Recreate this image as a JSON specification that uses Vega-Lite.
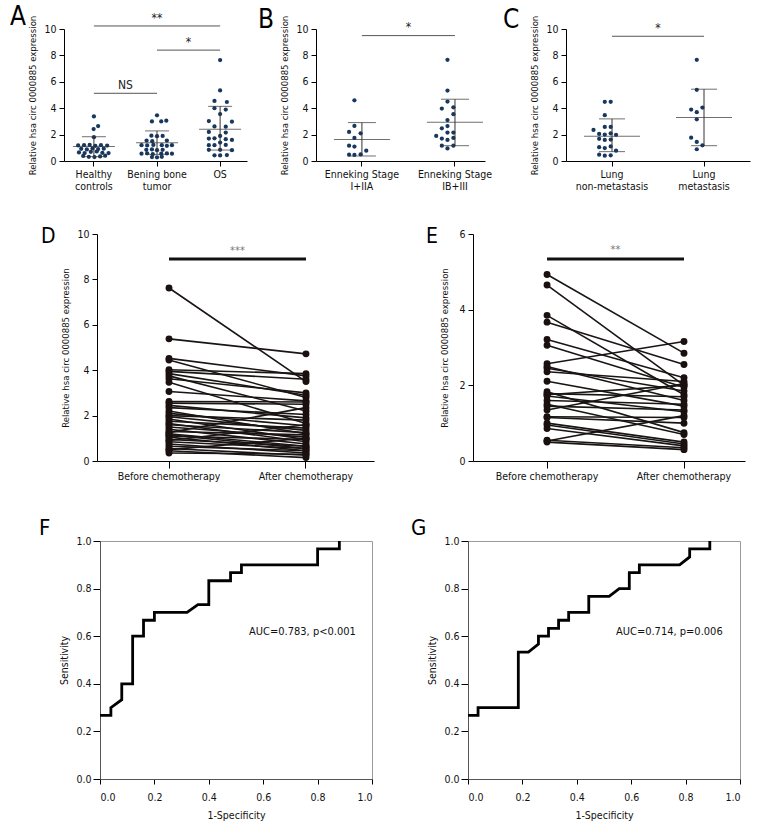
{
"$schema":"https://vega.github.io/schema/vega-lite/v6.json",
"background":"white",
"padding":{"left":4,"top":4,"right":4,"bottom":4},
"config":{
 "font":"Liberation Sans Narrow, DejaVu Sans Condensed, sans-serif",
 "view":{"stroke":null},
 "axis":{"grid":false,"domainColor":"#000","tickColor":"#000","labelColor":"#111","titleColor":"#111","labelFontSize":10.5,"titleFontSize":9.5,"titleFontWeight":"normal","tickSize":5,"labelPadding":3,"titlePadding":6,"labelOverlap":false,"labelFont":"Liberation Sans Narrow, DejaVu Sans Condensed, sans-serif","titleFont":"Liberation Sans Narrow, DejaVu Sans Condensed, sans-serif"},
 "title":{"fontSize":26,"fontWeight":"normal","anchor":"start","frame":"bounds","offset":2,"font":"Liberation Sans Narrow, DejaVu Sans Condensed, sans-serif"},
 "text":{"font":"Liberation Sans Narrow, DejaVu Sans Condensed, sans-serif"}
},
"datasets":{
 "a_pts":[
  {"g":"Healthy controls","v":3.38,"c":0},{"g":"Healthy controls","v":2.65,"c":0.75},{"g":"Healthy controls","v":2.42,"c":-0.05},{"g":"Healthy controls","v":1.8,"c":0},
  {"g":"Healthy controls","v":1.18,"c":-2.8},{"g":"Healthy controls","v":1.2,"c":-1.75},{"g":"Healthy controls","v":1.22,"c":-0.75},{"g":"Healthy controls","v":1.15,"c":0.25},{"g":"Healthy controls","v":1.2,"c":1.25},{"g":"Healthy controls","v":1.17,"c":2.35},
  {"g":"Healthy controls","v":0.92,"c":-2.25},{"g":"Healthy controls","v":0.88,"c":-1.25},{"g":"Healthy controls","v":0.95,"c":-0.25},{"g":"Healthy controls","v":0.9,"c":0.75},{"g":"Healthy controls","v":0.93,"c":1.75},
  {"g":"Healthy controls","v":0.65,"c":-2.65},{"g":"Healthy controls","v":0.6,"c":-1.65},{"g":"Healthy controls","v":0.7,"c":-0.55},{"g":"Healthy controls","v":0.72,"c":0.5},{"g":"Healthy controls","v":0.62,"c":1.5},{"g":"Healthy controls","v":0.6,"c":2.6},
  {"g":"Healthy controls","v":0.38,"c":-1.9},{"g":"Healthy controls","v":0.32,"c":-0.9},{"g":"Healthy controls","v":0.3,"c":0.1},{"g":"Healthy controls","v":0.35,"c":1.1},{"g":"Healthy controls","v":0.4,"c":2.0},
  {"g":"Bening bone tumor","v":3.46,"c":0},{"g":"Bening bone tumor","v":3.0,"c":-0.9},{"g":"Bening bone tumor","v":3.0,"c":0.75},{"g":"Bening bone tumor","v":3.05,"c":1.65},
  {"g":"Bening bone tumor","v":1.92,"c":-1},{"g":"Bening bone tumor","v":1.88,"c":0},{"g":"Bening bone tumor","v":1.9,"c":1},
  {"g":"Bening bone tumor","v":1.55,"c":-1.85},{"g":"Bening bone tumor","v":1.5,"c":-0.85},{"g":"Bening bone tumor","v":1.55,"c":1.75},
  {"g":"Bening bone tumor","v":1.2,"c":-2.75},{"g":"Bening bone tumor","v":1.18,"c":-1.75},{"g":"Bening bone tumor","v":1.22,"c":-0.65},{"g":"Bening bone tumor","v":1.2,"c":0.85},{"g":"Bening bone tumor","v":1.15,"c":1.75},{"g":"Bening bone tumor","v":1.2,"c":2.65},
  {"g":"Bening bone tumor","v":0.85,"c":-1.9},{"g":"Bening bone tumor","v":0.88,"c":-0.9},{"g":"Bening bone tumor","v":0.82,"c":0},{"g":"Bening bone tumor","v":0.85,"c":1},
  {"g":"Bening bone tumor","v":0.55,"c":-2.75},{"g":"Bening bone tumor","v":0.58,"c":-1.75},{"g":"Bening bone tumor","v":0.52,"c":-0.75},{"g":"Bening bone tumor","v":0.55,"c":0.75},{"g":"Bening bone tumor","v":0.57,"c":1.75},{"g":"Bening bone tumor","v":0.55,"c":2.65},
  {"g":"Bening bone tumor","v":0.3,"c":-0.9},{"g":"Bening bone tumor","v":0.28,"c":0},{"g":"Bening bone tumor","v":0.32,"c":0.85},
  {"g":"OS","v":7.65,"c":0},{"g":"OS","v":5.35,"c":0},{"g":"OS","v":4.55,"c":-1},{"g":"OS","v":4.47,"c":1.2},{"g":"OS","v":4.0,"c":-1},{"g":"OS","v":3.9,"c":1},{"g":"OS","v":3.56,"c":0},
  {"g":"OS","v":3.03,"c":-2},{"g":"OS","v":2.98,"c":2.1},{"g":"OS","v":2.62,"c":-1},{"g":"OS","v":2.6,"c":1},{"g":"OS","v":2.2,"c":-2},{"g":"OS","v":2.15,"c":1},{"g":"OS","v":1.9,"c":0},
  {"g":"OS","v":1.7,"c":-2},{"g":"OS","v":1.72,"c":-1},{"g":"OS","v":1.65,"c":1},{"g":"OS","v":1.6,"c":2.1},{"g":"OS","v":1.4,"c":0},
  {"g":"OS","v":1.2,"c":-2},{"g":"OS","v":1.2,"c":-1},{"g":"OS","v":1.22,"c":1},{"g":"OS","v":0.85,"c":-2},{"g":"OS","v":0.85,"c":0},{"g":"OS","v":0.82,"c":2.1},
  {"g":"OS","v":0.43,"c":-1},{"g":"OS","v":0.42,"c":0},{"g":"OS","v":0.45,"c":1.2}
 ],
 "a_sum":[
  {"g":"Healthy controls","mean":1.09,"lo":0.33,"hi":1.84},
  {"g":"Bening bone tumor","mean":1.39,"lo":0.5,"hi":2.28},
  {"g":"OS","mean":2.4,"lo":0.83,"hi":4.14}
 ],
 "b_pts":[
  {"g":"Enneking Stage I+IIA","v":4.6,"c":0},{"g":"Enneking Stage I+IIA","v":2.66,"c":0},{"g":"Enneking Stage I+IIA","v":2.2,"c":-0.95},{"g":"Enneking Stage I+IIA","v":2.1,"c":1.1},{"g":"Enneking Stage I+IIA","v":1.75,"c":0},{"g":"Enneking Stage I+IIA","v":1.16,"c":-0.95},{"g":"Enneking Stage I+IIA","v":1.09,"c":0},{"g":"Enneking Stage I+IIA","v":0.78,"c":2.1},{"g":"Enneking Stage I+IIA","v":0.48,"c":-0.95},{"g":"Enneking Stage I+IIA","v":0.46,"c":0},{"g":"Enneking Stage I+IIA","v":0.5,"c":1.1},
  {"g":"Enneking Stage IB+III","v":7.67,"c":0},{"g":"Enneking Stage IB+III","v":5.34,"c":0},{"g":"Enneking Stage IB+III","v":4.5,"c":0},{"g":"Enneking Stage IB+III","v":3.97,"c":-1},{"g":"Enneking Stage IB+III","v":4.07,"c":1.05},{"g":"Enneking Stage IB+III","v":3.55,"c":1.05},{"g":"Enneking Stage IB+III","v":3.1,"c":0},{"g":"Enneking Stage IB+III","v":2.65,"c":0},{"g":"Enneking Stage IB+III","v":2.48,"c":-1},{"g":"Enneking Stage IB+III","v":2.15,"c":0},{"g":"Enneking Stage IB+III","v":2.15,"c":1.05},{"g":"Enneking Stage IB+III","v":1.9,"c":-2},{"g":"Enneking Stage IB+III","v":1.7,"c":-1},{"g":"Enneking Stage IB+III","v":1.6,"c":0},{"g":"Enneking Stage IB+III","v":1.75,"c":1.05},{"g":"Enneking Stage IB+III","v":1.16,"c":-1},{"g":"Enneking Stage IB+III","v":1.16,"c":1.05},{"g":"Enneking Stage IB+III","v":0.95,"c":0}
 ],
 "b_sum":[
  {"g":"Enneking Stage I+IIA","mean":1.62,"lo":0.38,"hi":2.91},
  {"g":"Enneking Stage IB+III","mean":2.94,"lo":1.16,"hi":4.68}
 ],
 "c_pts":[
  {"g":"Lung non-metastasis","v":4.48,"c":0},{"g":"Lung non-metastasis","v":4.48,"c":1.05},{"g":"Lung non-metastasis","v":3.47,"c":0},{"g":"Lung non-metastasis","v":2.58,"c":0},{"g":"Lung non-metastasis","v":2.58,"c":1.05},{"g":"Lung non-metastasis","v":2.35,"c":-2},{"g":"Lung non-metastasis","v":2.05,"c":-1},{"g":"Lung non-metastasis","v":2.0,"c":0},{"g":"Lung non-metastasis","v":2.1,"c":1.05},{"g":"Lung non-metastasis","v":1.98,"c":2},{"g":"Lung non-metastasis","v":1.68,"c":-1},{"g":"Lung non-metastasis","v":1.6,"c":0},{"g":"Lung non-metastasis","v":1.62,"c":1.05},{"g":"Lung non-metastasis","v":1.05,"c":-1},{"g":"Lung non-metastasis","v":0.98,"c":0},{"g":"Lung non-metastasis","v":1.1,"c":1.05},{"g":"Lung non-metastasis","v":0.78,"c":2},{"g":"Lung non-metastasis","v":0.48,"c":-1},{"g":"Lung non-metastasis","v":0.4,"c":0},{"g":"Lung non-metastasis","v":0.43,"c":1.05},
  {"g":"Lung metastasis","v":7.67,"c":0},{"g":"Lung metastasis","v":5.39,"c":0},{"g":"Lung metastasis","v":3.9,"c":-1},{"g":"Lung metastasis","v":3.7,"c":0},{"g":"Lung metastasis","v":4.05,"c":1},{"g":"Lung metastasis","v":3.16,"c":0},{"g":"Lung metastasis","v":1.77,"c":-1},{"g":"Lung metastasis","v":1.44,"c":0},{"g":"Lung metastasis","v":1.19,"c":1},{"g":"Lung metastasis","v":0.89,"c":0}
 ],
 "c_sum":[
  {"g":"Lung non-metastasis","mean":1.87,"lo":0.71,"hi":3.19},
  {"g":"Lung metastasis","mean":3.29,"lo":1.16,"hi":5.44}
 ],
 "d":[
  {"id":1,"b":7.62,"a":3.5},{"id":2,"b":5.38,"a":4.72},{"id":3,"b":4.52,"a":3.75},{"id":4,"b":4.45,"a":2.8},{"id":5,"b":4.02,"a":3.85},{"id":6,"b":3.95,"a":3.6},{"id":7,"b":3.85,"a":2.9},{"id":8,"b":3.75,"a":2.2},{"id":9,"b":3.62,"a":3.0},{"id":10,"b":3.47,"a":1.65},
  {"id":11,"b":3.06,"a":2.65},{"id":12,"b":2.62,"a":2.6},{"id":13,"b":2.55,"a":2.5},{"id":14,"b":2.45,"a":1.9},{"id":15,"b":2.35,"a":2.05},{"id":16,"b":2.2,"a":1.2},{"id":17,"b":2.1,"a":1.55},{"id":18,"b":2.0,"a":1.8},{"id":19,"b":1.95,"a":1.35},{"id":20,"b":1.85,"a":0.95},
  {"id":21,"b":1.75,"a":1.45},{"id":22,"b":1.65,"a":0.85},{"id":23,"b":1.6,"a":1.25},{"id":24,"b":1.5,"a":1.05},{"id":25,"b":1.4,"a":0.75},{"id":26,"b":1.3,"a":1.15},{"id":27,"b":1.2,"a":0.65},{"id":28,"b":1.15,"a":0.55},{"id":29,"b":1.1,"a":0.95},{"id":30,"b":1.05,"a":0.45},
  {"id":31,"b":0.95,"a":0.65},{"id":32,"b":0.85,"a":0.55},{"id":33,"b":0.75,"a":0.35},{"id":34,"b":0.65,"a":0.45},{"id":35,"b":0.55,"a":0.25},{"id":36,"b":0.45,"a":0.15},{"id":37,"b":0.35,"a":0.3},{"id":38,"b":0.9,"a":1.6},{"id":39,"b":1.25,"a":2.35},{"id":40,"b":0.5,"a":1.0}
 ],
 "e":[
  {"id":1,"b":4.93,"a":2.85},{"id":2,"b":4.65,"a":2.0},{"id":3,"b":3.85,"a":1.75},{"id":4,"b":3.67,"a":2.55},{"id":5,"b":3.21,"a":2.2},{"id":6,"b":3.06,"a":1.95},{"id":7,"b":2.57,"a":3.16},{"id":8,"b":2.45,"a":1.85},{"id":9,"b":2.36,"a":2.1},
  {"id":10,"b":2.11,"a":1.45},{"id":11,"b":1.83,"a":0.75},{"id":12,"b":1.78,"a":1.7},{"id":13,"b":1.72,"a":1.3},{"id":14,"b":1.6,"a":1.5},{"id":15,"b":1.5,"a":0.7},{"id":16,"b":1.35,"a":2.05},{"id":17,"b":1.17,"a":1.15},{"id":18,"b":1.15,"a":1.0},
  {"id":19,"b":0.95,"a":0.45},{"id":20,"b":0.86,"a":0.4},{"id":21,"b":0.55,"a":0.35},{"id":22,"b":0.5,"a":0.3},{"id":23,"b":0.53,"a":1.2},{"id":24,"b":1.45,"a":1.35},{"id":25,"b":1.75,"a":2.0},{"id":26,"b":1.0,"a":0.5},{"id":27,"b":2.5,"a":1.6}
 ],
 "f":[
  {"i":0,"x":0,"y":0.267},{"i":1,"x":0.04,"y":0.267},{"i":2,"x":0.04,"y":0.3},{"i":3,"x":0.08,"y":0.333},{"i":4,"x":0.08,"y":0.4},{"i":5,"x":0.12,"y":0.4},{"i":6,"x":0.12,"y":0.6},{"i":7,"x":0.16,"y":0.6},{"i":8,"x":0.16,"y":0.667},{"i":9,"x":0.2,"y":0.667},{"i":10,"x":0.2,"y":0.7},{"i":11,"x":0.32,"y":0.7},{"i":12,"x":0.36,"y":0.733},{"i":13,"x":0.4,"y":0.733},{"i":14,"x":0.4,"y":0.833},{"i":15,"x":0.48,"y":0.833},{"i":16,"x":0.48,"y":0.867},{"i":17,"x":0.52,"y":0.867},{"i":18,"x":0.52,"y":0.9},{"i":19,"x":0.8,"y":0.9},{"i":20,"x":0.8,"y":0.967},{"i":21,"x":0.88,"y":0.967},{"i":22,"x":0.88,"y":1.0}
 ],
 "g":[
  {"i":0,"x":0,"y":0.267},{"i":1,"x":0.037,"y":0.267},{"i":2,"x":0.037,"y":0.3},{"i":3,"x":0.185,"y":0.3},{"i":4,"x":0.185,"y":0.533},{"i":5,"x":0.222,"y":0.533},{"i":6,"x":0.259,"y":0.567},{"i":7,"x":0.259,"y":0.6},{"i":8,"x":0.296,"y":0.6},{"i":9,"x":0.296,"y":0.633},{"i":10,"x":0.333,"y":0.633},{"i":11,"x":0.333,"y":0.667},{"i":12,"x":0.37,"y":0.667},{"i":13,"x":0.37,"y":0.7},{"i":14,"x":0.444,"y":0.7},{"i":15,"x":0.444,"y":0.767},{"i":16,"x":0.519,"y":0.767},{"i":17,"x":0.556,"y":0.8},{"i":18,"x":0.593,"y":0.8},{"i":19,"x":0.593,"y":0.867},{"i":20,"x":0.63,"y":0.867},{"i":21,"x":0.63,"y":0.9},{"i":22,"x":0.778,"y":0.9},{"i":23,"x":0.815,"y":0.933},{"i":24,"x":0.815,"y":0.967},{"i":25,"x":0.889,"y":0.967},{"i":26,"x":0.889,"y":1.0}
 ]
},
"spacing":34,
"vconcat":[
 {"hconcat":[
  {"width":4,"height":10,"data":{"values":[]},"mark":"point"},
  {"hconcat":[
  {"title":{"text":"A","dx":-18,"offset":-18},
   "width":183,"height":132,
   "layer":[
    {"data":{"name":"a_pts"},"mark":{"type":"circle","size":18,"opacity":1,"color":"#17375e"},
     "encoding":{
      "x":{"field":"g","type":"nominal","scale":{"type":"band","domain":["Healthy controls","Bening bone tumor","OS"],"paddingInner":0.5,"paddingOuter":0.2,"align":0.56},"axis":{"title":null,"labelAngle":0,"labelLineHeight":12,"labelExpr":"datum.value == 'Healthy controls' ? ['Healthy','controls'] : datum.value == 'Bening bone tumor' ? ['Bening bone','tumor'] : datum.value"}},
      "xOffset":{"field":"c","type":"quantitative","scale":{"domain":[-2.36,2.36]}},
      "y":{"field":"v","type":"quantitative","scale":{"domain":[0,10]},"axis":{"title":"Relative hsa circ 0000885 expression","values":[0,2,4,6,8,10]}}
     }},
    {"data":{"name":"a_sum"},"mark":{"type":"rule","color":"#333","strokeWidth":1},"encoding":{"x":{"field":"g","type":"nominal"},"y":{"field":"lo","type":"quantitative","axis":{"title":"Relative hsa circ 0000885 expression","values":[0,2,4,6,8,10]}},"y2":{"field":"hi"}}},
    {"data":{"name":"a_sum"},"mark":{"type":"tick","color":"#333","thickness":1,"size":42,"orient":"horizontal"},"encoding":{"x":{"field":"g","type":"nominal"},"y":{"field":"mean","type":"quantitative","axis":{"title":"Relative hsa circ 0000885 expression","values":[0,2,4,6,8,10]}}}},
    {"data":{"name":"a_sum"},"mark":{"type":"tick","color":"#333","thickness":1,"size":24,"orient":"horizontal"},"encoding":{"x":{"field":"g","type":"nominal"},"y":{"field":"hi","type":"quantitative","axis":{"title":"Relative hsa circ 0000885 expression","values":[0,2,4,6,8,10]}}}},
    {"data":{"name":"a_sum"},"mark":{"type":"tick","color":"#333","thickness":1,"size":24,"orient":"horizontal"},"encoding":{"x":{"field":"g","type":"nominal"},"y":{"field":"lo","type":"quantitative","axis":{"title":"Relative hsa circ 0000885 expression","values":[0,2,4,6,8,10]}}}},
    {"data":{"values":[{"from":"Healthy controls","to":"OS","y":10.23},{"from":"Bening bone tumor","to":"OS","y":8.4},{"from":"Healthy controls","to":"Bening bone tumor","y":5.13}]},"mark":{"type":"rule","color":"#555","strokeWidth":1},"encoding":{"x":{"field":"from","type":"nominal"},"x2":{"field":"to"},"y":{"field":"y","type":"quantitative","axis":{"title":"Relative hsa circ 0000885 expression","values":[0,2,4,6,8,10]}}}},
    {"data":{"values":[{"g":"Bening bone tumor","y":10.3,"lab":"**"}]},"mark":{"type":"text","baseline":"bottom","fontSize":12,"color":"#222"},"encoding":{"x":{"field":"g","type":"nominal"},"y":{"field":"y","type":"quantitative","axis":{"title":"Relative hsa circ 0000885 expression","values":[0,2,4,6,8,10]}},"text":{"field":"lab"}}},
    {"data":{"values":[{"g":"Bening bone tumor","y":8.5,"lab":"*"},{"g":"Healthy controls","y":5.25,"lab":"NS"}]},"mark":{"type":"text","baseline":"bottom","fontSize":12,"color":"#222"},"encoding":{"x":{"field":"g","type":"nominal","bandPosition":1.5},"y":{"field":"y","type":"quantitative","axis":{"title":"Relative hsa circ 0000885 expression","values":[0,2,4,6,8,10]}},"text":{"field":"lab"}}}
   ]},
  {"title":{"text":"B","dx":-22,"offset":-18},
   "width":169,"height":132,
   "layer":[
    {"data":{"name":"b_pts"},"mark":{"type":"circle","size":18,"opacity":1,"color":"#17375e"},
     "encoding":{
      "x":{"field":"g","type":"nominal","scale":{"type":"band","domain":["Enneking Stage I+IIA","Enneking Stage IB+III"],"paddingInner":0.5,"paddingOuter":0.158,"align":0.77},"axis":{"title":null,"labelAngle":0,"labelLineHeight":12,"labelExpr":"[slice(datum.value,0,14), slice(datum.value,15)]"}},
      "xOffset":{"field":"c","type":"quantitative","scale":{"domain":[-2.8,2.8]}},
      "y":{"field":"v","type":"quantitative","scale":{"domain":[0,10]},"axis":{"title":"Relative hsa circ 0000885 expression","values":[0,2,4,6,8,10]}}
     }},
    {"data":{"name":"b_sum"},"mark":{"type":"rule","color":"#333","strokeWidth":1},"encoding":{"x":{"field":"g","type":"nominal"},"y":{"field":"lo","type":"quantitative","axis":{"title":"Relative hsa circ 0000885 expression","values":[0,2,4,6,8,10]}},"y2":{"field":"hi"}}},
    {"data":{"name":"b_sum"},"mark":{"type":"tick","color":"#333","thickness":1,"size":56,"orient":"horizontal"},"encoding":{"x":{"field":"g","type":"nominal"},"y":{"field":"mean","type":"quantitative","axis":{"title":"Relative hsa circ 0000885 expression","values":[0,2,4,6,8,10]}}}},
    {"data":{"name":"b_sum"},"mark":{"type":"tick","color":"#333","thickness":1,"size":28,"orient":"horizontal"},"encoding":{"x":{"field":"g","type":"nominal"},"y":{"field":"hi","type":"quantitative","axis":{"title":"Relative hsa circ 0000885 expression","values":[0,2,4,6,8,10]}}}},
    {"data":{"name":"b_sum"},"mark":{"type":"tick","color":"#333","thickness":1,"size":28,"orient":"horizontal"},"encoding":{"x":{"field":"g","type":"nominal"},"y":{"field":"lo","type":"quantitative","axis":{"title":"Relative hsa circ 0000885 expression","values":[0,2,4,6,8,10]}}}},
    {"data":{"values":[{"from":"Enneking Stage I+IIA","to":"Enneking Stage IB+III","y":9.5}]},"mark":{"type":"rule","color":"#555","strokeWidth":1},"encoding":{"x":{"field":"from","type":"nominal"},"x2":{"field":"to"},"y":{"field":"y","type":"quantitative","axis":{"title":"Relative hsa circ 0000885 expression","values":[0,2,4,6,8,10]}}}},
    {"data":{"values":[{"g":"Enneking Stage I+IIA","y":9.6,"lab":"*"}]},"mark":{"type":"text","baseline":"bottom","fontSize":12,"color":"#222"},"encoding":{"x":{"field":"g","type":"nominal","bandPosition":1.5},"y":{"field":"y","type":"quantitative","axis":{"title":"Relative hsa circ 0000885 expression","values":[0,2,4,6,8,10]}},"text":{"field":"lab"}}}
   ]},
  {"title":{"text":"C","dx":-27,"offset":-18},
   "width":184,"height":132,
   "layer":[
    {"data":{"name":"c_pts"},"mark":{"type":"circle","size":18,"opacity":1,"color":"#17375e"},
     "encoding":{
      "x":{"field":"g","type":"nominal","scale":{"type":"band","domain":["Lung non-metastasis","Lung metastasis"],"paddingInner":0.5,"paddingOuter":0.25,"align":0.5},"axis":{"title":null,"labelAngle":0,"labelLineHeight":12,"labelExpr":"split(datum.value,' ')"}},
      "xOffset":{"field":"c","type":"quantitative","scale":{"domain":[-2.8,2.8]}},
      "y":{"field":"v","type":"quantitative","scale":{"domain":[0,10]},"axis":{"title":"Relative hsa circ 0000885 expression","values":[0,2,4,6,8,10]}}
     }},
    {"data":{"name":"c_sum"},"mark":{"type":"rule","color":"#333","strokeWidth":1},"encoding":{"x":{"field":"g","type":"nominal"},"y":{"field":"lo","type":"quantitative","axis":{"title":"Relative hsa circ 0000885 expression","values":[0,2,4,6,8,10]}},"y2":{"field":"hi"}}},
    {"data":{"name":"c_sum"},"mark":{"type":"tick","color":"#333","thickness":1,"size":56,"orient":"horizontal"},"encoding":{"x":{"field":"g","type":"nominal"},"y":{"field":"mean","type":"quantitative","axis":{"title":"Relative hsa circ 0000885 expression","values":[0,2,4,6,8,10]}}}},
    {"data":{"name":"c_sum"},"mark":{"type":"tick","color":"#333","thickness":1,"size":26,"orient":"horizontal"},"encoding":{"x":{"field":"g","type":"nominal"},"y":{"field":"hi","type":"quantitative","axis":{"title":"Relative hsa circ 0000885 expression","values":[0,2,4,6,8,10]}}}},
    {"data":{"name":"c_sum"},"mark":{"type":"tick","color":"#333","thickness":1,"size":26,"orient":"horizontal"},"encoding":{"x":{"field":"g","type":"nominal"},"y":{"field":"lo","type":"quantitative","axis":{"title":"Relative hsa circ 0000885 expression","values":[0,2,4,6,8,10]}}}},
    {"data":{"values":[{"from":"Lung non-metastasis","to":"Lung metastasis","y":9.45}]},"mark":{"type":"rule","color":"#555","strokeWidth":1},"encoding":{"x":{"field":"from","type":"nominal"},"x2":{"field":"to"},"y":{"field":"y","type":"quantitative","axis":{"title":"Relative hsa circ 0000885 expression","values":[0,2,4,6,8,10]}}}},
    {"data":{"values":[{"g":"Lung non-metastasis","y":9.55,"lab":"*"}]},"mark":{"type":"text","baseline":"bottom","fontSize":12,"color":"#222"},"encoding":{"x":{"field":"g","type":"nominal","bandPosition":1.5},"y":{"field":"y","type":"quantitative","axis":{"title":"Relative hsa circ 0000885 expression","values":[0,2,4,6,8,10]}},"text":{"field":"lab"}}}
   ]}
  ],"spacing":10}
 ],"spacing":1},
 {"hconcat":[
  {"width":35,"height":10,"data":{"values":[]},"mark":"point"},
  {"hconcat":[
  {"title":{"text":"D","dx":-20,"offset":-18,"fontSize":21},
   "width":277,"height":227,
   "data":{"name":"d"},
   "transform":[{"fold":["b","a"],"as":["t","v"]}],
   "layer":[
     {"mark":{"type":"line","color":"#1a1414","strokeWidth":1.6},
      "encoding":{
       "x":{"field":"t","type":"nominal","scale":{"type":"band","domain":["b","a"],"paddingInner":0.5,"paddingOuter":0.261,"align":0.528},"axis":{"title":null,"labelAngle":0,"tickSize":7,"labelExpr":"datum.value == 'b' ? 'Before chemotherapy' : 'After chemotherapy'"}},
       "y":{"field":"v","type":"quantitative","scale":{"domain":[0,10]},"axis":{"title":"Relative hsa circ 0000885 expression","values":[0,2,4,6,8,10]}},
       "detail":{"field":"id"}
      }},
     {"mark":{"type":"circle","size":48,"color":"#1a1010","opacity":1},
      "encoding":{"x":{"field":"t","type":"nominal"},"y":{"field":"v","type":"quantitative","axis":{"title":"Relative hsa circ 0000885 expression","values":[0,2,4,6,8,10]}}}},
     {"data":{"values":[{"p":"b","q":"a","y":8.9}]},"mark":{"type":"rule","color":"#111","strokeWidth":3},"encoding":{"x":{"field":"p","type":"nominal"},"x2":{"field":"q"},"y":{"field":"y","type":"quantitative","axis":{"title":"Relative hsa circ 0000885 expression","values":[0,2,4,6,8,10]}}}},
     {"data":{"values":[{"p":"b","y":9.05,"lab":"***"}]},"mark":{"type":"text","baseline":"bottom","fontSize":11,"color":"#777"},"encoding":{"x":{"field":"p","type":"nominal","bandPosition":1.5},"y":{"field":"y","type":"quantitative","axis":{"title":"Relative hsa circ 0000885 expression","values":[0,2,4,6,8,10]}},"text":{"field":"lab"}}}
   ]},
  {"title":{"text":"E","dx":-14,"offset":-18,"fontSize":21},
   "width":272,"height":227,
   "data":{"name":"e"},
   "transform":[{"fold":["b","a"],"as":["t","v"]}],
   "layer":[
    {"mark":{"type":"line","color":"#1a1414","strokeWidth":1.6},
     "encoding":{
      "x":{"field":"t","type":"nominal","scale":{"type":"band","domain":["b","a"],"paddingInner":0.5,"paddingOuter":0.243,"align":0.598},"axis":{"title":null,"labelAngle":0,"tickSize":7,"labelExpr":"datum.value == 'b' ? 'Before chemotherapy' : 'After chemotherapy'"}},
      "y":{"field":"v","type":"quantitative","scale":{"domain":[0,6]},"axis":{"title":"Relative hsa circ 0000885 expression","values":[0,2,4,6],"titlePadding":9}},
      "detail":{"field":"id"}
     }},
    {"mark":{"type":"circle","size":48,"color":"#1a1010","opacity":1},
     "encoding":{"x":{"field":"t","type":"nominal"},"y":{"field":"v","type":"quantitative","axis":{"title":"Relative hsa circ 0000885 expression","values":[0,2,4,6],"titlePadding":9}}}},
    {"data":{"values":[{"p":"b","q":"a","y":5.34}]},"mark":{"type":"rule","color":"#111","strokeWidth":3},"encoding":{"x":{"field":"p","type":"nominal"},"x2":{"field":"q"},"y":{"field":"y","type":"quantitative","axis":{"title":"Relative hsa circ 0000885 expression","values":[0,2,4,6],"titlePadding":9}}}},
    {"data":{"values":[{"p":"b","y":5.44,"lab":"**"}]},"mark":{"type":"text","baseline":"bottom","fontSize":11,"color":"#777"},"encoding":{"x":{"field":"p","type":"nominal","bandPosition":1.5},"y":{"field":"y","type":"quantitative","axis":{"title":"Relative hsa circ 0000885 expression","values":[0,2,4,6],"titlePadding":9}},"text":{"field":"lab"}}}
   ]}
  ],"spacing":51}
 ],"spacing":1},
 {"hconcat":[
  {"width":33,"height":10,"data":{"values":[]},"mark":"point"},
  {"hconcat":[
  {"title":{"text":"F","dx":-21,"offset":-5,"fontSize":22},
   "width":272,"height":238,
   "view":{"stroke":"#999"},
   "layer":[
     {"data":{"name":"f"},"mark":{"type":"line","color":"#000","strokeWidth":2.8},
      "encoding":{
       "x":{"field":"x","type":"quantitative","scale":{"domain":[0,1]},"axis":{"title":"1-Specificity","values":[0,0.2,0.4,0.6,0.8,1],"format":".1f","domainColor":"#555","titleFontSize":10.5,"labelPadding":8,"titlePadding":8}},
       "y":{"field":"y","type":"quantitative","scale":{"domain":[0,1]},"axis":{"title":"Sensitivity","values":[0,0.2,0.4,0.6,0.8,1],"format":".1f","domainColor":"#555","titleFontSize":10.5,"tickSize":7,"labelPadding":2}},
       "order":{"field":"i"}
      }},
     {"data":{"values":[{"x":0.548,"y":0.618,"t":"AUC=0.783, p<0.001"}]},"mark":{"type":"text","align":"left","baseline":"middle","fontSize":11,"color":"#111"},"encoding":{"x":{"field":"x","type":"quantitative"},"y":{"field":"y","type":"quantitative"},"text":{"field":"t"}}}
   ]},
  {"title":{"text":"G","dx":-17,"offset":-5,"fontSize":22},
   "width":272,"height":238,
   "view":{"stroke":"#999"},
   "layer":[
    {"data":{"name":"g"},"mark":{"type":"line","color":"#000","strokeWidth":2.8},
     "encoding":{
      "x":{"field":"x","type":"quantitative","scale":{"domain":[0,1]},"axis":{"title":"1-Specificity","values":[0,0.2,0.4,0.6,0.8,1],"format":".1f","domainColor":"#555","titleFontSize":10.5,"labelPadding":8,"titlePadding":8}},
      "y":{"field":"y","type":"quantitative","scale":{"domain":[0,1]},"axis":{"title":"Sensitivity","values":[0,0.2,0.4,0.6,0.8,1],"format":".1f","domainColor":"#555","titleFontSize":10.5,"tickSize":7,"labelPadding":2}},
      "order":{"field":"i"}
     }},
    {"data":{"values":[{"x":0.544,"y":0.618,"t":"AUC=0.714, p=0.006"}]},"mark":{"type":"text","align":"left","baseline":"middle","fontSize":11,"color":"#111"},"encoding":{"x":{"field":"x","type":"quantitative"},"y":{"field":"y","type":"quantitative"},"text":{"field":"t"}}}
   ]}
  ],"spacing":37}
 ],"spacing":1}
]
}
